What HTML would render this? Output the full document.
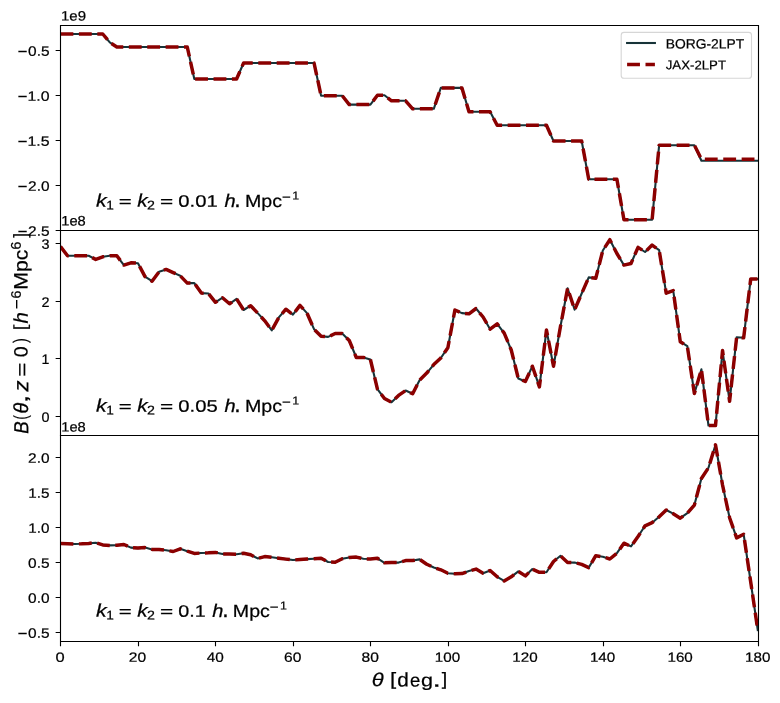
<!DOCTYPE html><html><head><meta charset="utf-8"><style>html,body{margin:0;padding:0;background:#fff}svg{display:block;will-change:transform}</style></head><body>
<svg width="780" height="703" viewBox="0 0 780 703">
<rect x="0" y="0" width="780" height="703" fill="#fff"/>
<defs>
<clipPath id="c0"><rect x="60.5" y="25.5" width="698.0" height="205.0"/></clipPath>
<clipPath id="c1"><rect x="60.5" y="230.5" width="698.0" height="205.0"/></clipPath>
<clipPath id="c2"><rect x="60.5" y="435.5" width="698.0" height="206.0"/></clipPath>
</defs>
<g clip-path="url(#c0)" fill="none" stroke-linejoin="round">
<path d="M60.50,34.00 L67.54,34.00 L74.59,34.00 L81.63,34.00 L88.67,34.00 L95.72,34.00 L102.76,34.00 L109.80,42.40 L116.84,47.00 L123.89,47.00 L130.93,47.00 L137.97,47.00 L145.02,47.00 L152.06,47.00 L159.10,47.00 L166.14,47.00 L173.19,47.00 L180.23,47.00 L187.27,47.00 L194.32,79.00 L201.36,79.00 L208.40,79.00 L215.45,79.00 L222.49,79.00 L229.53,79.00 L236.58,79.00 L243.62,63.00 L250.66,63.00 L257.70,63.00 L264.75,63.00 L271.79,63.00 L278.83,63.00 L285.88,63.00 L292.92,63.00 L299.96,63.00 L307.00,63.00 L314.05,63.00 L321.09,95.70 L328.13,95.70 L335.18,95.70 L342.22,95.70 L349.26,104.60 L356.31,104.60 L363.35,104.60 L370.39,104.60 L377.44,95.30 L384.48,95.30 L391.52,100.80 L398.56,100.80 L405.61,100.80 L412.65,108.80 L419.69,108.80 L426.74,108.80 L433.78,108.80 L440.82,87.90 L447.87,87.90 L454.91,87.90 L461.95,87.90 L468.99,111.80 L476.04,111.80 L483.08,111.80 L490.12,111.80 L497.17,125.30 L504.21,125.30 L511.25,125.30 L518.30,125.30 L525.34,125.30 L532.38,125.30 L539.42,125.30 L546.47,125.30 L553.51,141.00 L560.55,141.00 L567.60,141.00 L574.64,141.00 L581.68,141.00 L588.73,179.20 L595.77,179.20 L602.81,179.20 L609.85,179.20 L616.90,179.20 L623.94,219.70 L630.98,219.70 L638.03,219.70 L645.07,219.70 L652.11,219.70 L659.15,145.20 L666.20,145.20 L673.24,145.20 L680.28,145.20 L687.33,145.20 L694.37,145.20 L701.41,160.80 L708.46,160.80 L715.50,160.80 L722.54,160.80 L729.59,160.80 L736.63,160.80 L743.67,160.80 L750.71,160.80 L757.76,160.80" stroke="#173338" stroke-width="2.083" stroke-linecap="square"/>
<path d="M60.50,34.00 L67.54,34.00 L74.59,34.00 L81.63,34.00 L88.67,34.00 L95.72,34.00 L102.76,34.00 L109.80,42.40 L116.84,47.00 L123.89,47.00 L130.93,47.00 L137.97,47.00 L145.02,47.00 L152.06,47.00 L159.10,47.00 L166.14,47.00 L173.19,47.00 L180.23,47.00 L187.27,47.00 L194.32,79.00 L201.36,79.00 L208.40,79.00 L215.45,79.00 L222.49,79.00 L229.53,79.00 L236.58,79.00 L243.62,63.00 L250.66,63.00 L257.70,63.00 L264.75,63.00 L271.79,63.00 L278.83,63.00 L285.88,63.00 L292.92,63.00 L299.96,63.00 L307.00,63.00 L314.05,63.00 L321.09,95.70 L328.13,95.70 L335.18,95.70 L342.22,95.70 L349.26,104.60 L356.31,104.60 L363.35,104.60 L370.39,104.60 L377.44,95.30 L384.48,95.30 L391.52,100.80 L398.56,100.80 L405.61,100.80 L412.65,108.80 L419.69,108.80 L426.74,108.80 L433.78,108.80 L440.82,87.90 L447.87,87.90 L454.91,87.90 L461.95,87.90 L468.99,111.80 L476.04,111.80 L483.08,111.80 L490.12,111.80 L497.17,125.30 L504.21,125.30 L511.25,125.30 L518.30,125.30 L525.34,125.30 L532.38,125.30 L539.42,125.30 L546.47,125.30 L553.51,141.00 L560.55,141.00 L567.60,141.00 L574.64,141.00 L581.68,141.00 L588.73,179.20 L595.77,179.20 L602.81,179.20 L609.85,179.20 L616.90,179.20 L623.94,219.70 L630.98,219.70 L638.03,219.70 L645.07,219.70 L652.11,219.70 L659.15,145.20 L666.20,145.20 L673.24,145.20 L680.28,145.20 L687.33,145.20 L694.37,145.20 L701.41,159.20 L708.46,159.20 L715.50,159.20 L722.54,159.20 L729.59,159.20 L736.63,159.20 L743.67,159.20 L750.71,159.20 L757.76,159.20" stroke="#8b0000" stroke-width="3.472" stroke-dasharray="12.847 5.556" stroke-linecap="butt"/>
</g>
<g clip-path="url(#c1)" fill="none" stroke-linejoin="round">
<path d="M60.50,246.50 L67.54,255.80 L74.59,255.80 L81.63,255.80 L88.67,255.80 L95.72,259.40 L102.76,256.80 L109.80,255.80 L116.84,255.80 L123.89,265.10 L130.93,262.80 L137.97,263.20 L145.02,276.60 L152.06,281.20 L159.10,271.70 L166.14,269.40 L173.19,272.60 L180.23,275.80 L187.27,283.10 L194.32,283.10 L201.36,293.10 L208.40,293.50 L215.45,302.30 L222.49,297.70 L229.53,303.80 L236.58,298.90 L243.62,310.00 L250.66,305.70 L257.70,313.10 L264.75,320.80 L271.79,330.30 L278.83,317.40 L285.88,309.20 L292.92,314.60 L299.96,305.40 L307.00,313.10 L314.05,329.20 L321.09,336.20 L328.13,336.90 L335.18,333.50 L342.22,333.50 L349.26,340.50 L356.31,357.50 L363.35,357.40 L370.39,359.50 L377.44,389.20 L384.48,398.50 L391.52,402.30 L398.56,395.40 L405.61,390.50 L412.65,393.80 L419.69,380.00 L426.74,373.10 L433.78,364.60 L440.82,358.00 L447.87,347.70 L454.91,310.00 L461.95,313.10 L468.99,313.80 L476.04,308.50 L483.08,317.00 L490.12,329.20 L497.17,323.80 L504.21,333.10 L511.25,350.00 L518.30,378.50 L525.34,381.50 L532.38,366.20 L539.42,386.90 L546.47,330.00 L553.51,366.20 L560.55,326.00 L567.60,288.20 L574.64,309.70 L581.68,293.50 L588.73,277.40 L595.77,278.20 L602.81,250.50 L609.85,239.70 L616.90,253.50 L623.94,265.10 L630.98,263.50 L638.03,247.40 L645.07,252.00 L652.11,245.10 L659.15,250.20 L666.20,293.20 L673.24,290.60 L680.28,341.70 L687.33,346.20 L694.37,393.60 L701.41,369.30 L708.46,425.50 L715.50,425.50 L722.54,350.60 L729.59,401.30 L736.63,337.30 L743.67,337.80 L750.71,279.00 L757.76,279.00" stroke="#173338" stroke-width="2.083" stroke-linecap="square"/>
<path d="M60.50,246.50 L67.54,255.80 L74.59,255.80 L81.63,255.80 L88.67,255.80 L95.72,259.40 L102.76,256.80 L109.80,255.80 L116.84,255.80 L123.89,265.10 L130.93,262.80 L137.97,263.20 L145.02,276.60 L152.06,281.20 L159.10,271.70 L166.14,269.40 L173.19,272.60 L180.23,275.80 L187.27,283.10 L194.32,283.10 L201.36,293.10 L208.40,293.50 L215.45,302.30 L222.49,297.70 L229.53,303.80 L236.58,298.90 L243.62,310.00 L250.66,305.70 L257.70,313.10 L264.75,320.80 L271.79,330.30 L278.83,317.40 L285.88,309.20 L292.92,314.60 L299.96,305.40 L307.00,313.10 L314.05,329.20 L321.09,336.20 L328.13,336.90 L335.18,333.50 L342.22,333.50 L349.26,340.50 L356.31,357.50 L363.35,357.40 L370.39,359.50 L377.44,389.20 L384.48,398.50 L391.52,402.30 L398.56,395.40 L405.61,390.50 L412.65,393.80 L419.69,380.00 L426.74,373.10 L433.78,364.60 L440.82,358.00 L447.87,347.70 L454.91,310.00 L461.95,313.10 L468.99,313.80 L476.04,308.50 L483.08,317.00 L490.12,329.20 L497.17,323.80 L504.21,333.10 L511.25,350.00 L518.30,378.50 L525.34,381.50 L532.38,366.20 L539.42,386.90 L546.47,330.00 L553.51,366.20 L560.55,326.00 L567.60,288.20 L574.64,309.70 L581.68,293.50 L588.73,277.40 L595.77,278.20 L602.81,250.50 L609.85,239.70 L616.90,253.50 L623.94,265.10 L630.98,263.50 L638.03,247.40 L645.07,252.00 L652.11,245.10 L659.15,250.20 L666.20,293.20 L673.24,290.60 L680.28,341.70 L687.33,346.20 L694.37,393.60 L701.41,369.30 L708.46,425.50 L715.50,425.50 L722.54,350.60 L729.59,401.30 L736.63,337.30 L743.67,337.80 L750.71,279.00 L757.76,279.00" stroke="#8b0000" stroke-width="3.472" stroke-dasharray="12.847 5.556" stroke-linecap="butt"/>
</g>
<g clip-path="url(#c2)" fill="none" stroke-linejoin="round">
<path d="M60.50,543.60 L67.54,543.80 L74.59,544.00 L81.63,543.80 L88.67,543.40 L95.72,542.70 L102.76,544.90 L109.80,545.40 L116.84,545.20 L123.89,544.50 L130.93,547.60 L137.97,548.10 L145.02,547.60 L152.06,549.40 L159.10,549.50 L166.14,550.30 L173.19,551.50 L180.23,548.80 L187.27,551.20 L194.32,553.40 L201.36,553.00 L208.40,552.80 L215.45,552.40 L222.49,553.90 L229.53,554.00 L236.58,554.20 L243.62,553.30 L250.66,554.80 L257.70,558.40 L264.75,556.60 L271.79,557.30 L278.83,558.20 L285.88,559.10 L292.92,560.00 L299.96,559.60 L307.00,559.10 L314.05,558.70 L321.09,558.20 L328.13,562.00 L335.18,562.20 L342.22,558.80 L349.26,557.40 L356.31,557.10 L363.35,558.80 L370.39,559.00 L377.44,558.30 L384.48,562.80 L391.52,562.60 L398.56,562.60 L405.61,560.60 L412.65,560.50 L419.69,559.40 L426.74,564.20 L433.78,567.50 L440.82,569.80 L447.87,573.20 L454.91,573.70 L461.95,573.60 L468.99,571.00 L476.04,569.10 L483.08,573.20 L490.12,570.50 L497.17,576.80 L504.21,580.90 L511.25,576.80 L518.30,571.40 L525.34,575.90 L532.38,569.10 L539.42,572.30 L546.47,572.30 L553.51,561.50 L560.55,555.80 L567.60,562.50 L574.64,562.60 L581.68,564.40 L588.73,567.60 L595.77,555.70 L602.81,556.80 L609.85,559.00 L616.90,553.20 L623.94,543.20 L630.98,546.40 L638.03,536.50 L645.07,525.80 L652.11,522.70 L659.15,516.80 L666.20,510.00 L673.24,513.70 L680.28,518.20 L687.33,513.20 L694.37,505.10 L701.41,478.50 L708.46,467.80 L715.50,444.80 L722.54,485.00 L729.59,517.70 L736.63,537.90 L743.67,534.30 L750.71,582.00 L757.76,630.00" stroke="#173338" stroke-width="2.083" stroke-linecap="square"/>
<path d="M60.50,543.60 L67.54,543.80 L74.59,544.00 L81.63,543.80 L88.67,543.40 L95.72,542.70 L102.76,544.90 L109.80,545.40 L116.84,545.20 L123.89,544.50 L130.93,547.60 L137.97,548.10 L145.02,547.60 L152.06,549.40 L159.10,549.50 L166.14,550.30 L173.19,551.50 L180.23,548.80 L187.27,551.20 L194.32,553.40 L201.36,553.00 L208.40,552.80 L215.45,552.40 L222.49,553.90 L229.53,554.00 L236.58,554.20 L243.62,553.30 L250.66,554.80 L257.70,558.40 L264.75,556.60 L271.79,557.30 L278.83,558.20 L285.88,559.10 L292.92,560.00 L299.96,559.60 L307.00,559.10 L314.05,558.70 L321.09,558.20 L328.13,562.00 L335.18,562.20 L342.22,558.80 L349.26,557.40 L356.31,557.10 L363.35,558.80 L370.39,559.00 L377.44,558.30 L384.48,562.80 L391.52,562.60 L398.56,562.60 L405.61,560.60 L412.65,560.50 L419.69,559.40 L426.74,564.20 L433.78,567.50 L440.82,569.80 L447.87,573.20 L454.91,573.70 L461.95,573.60 L468.99,571.00 L476.04,569.10 L483.08,573.20 L490.12,570.50 L497.17,576.80 L504.21,580.90 L511.25,576.80 L518.30,571.40 L525.34,575.90 L532.38,569.10 L539.42,572.30 L546.47,572.30 L553.51,561.50 L560.55,555.80 L567.60,562.50 L574.64,562.60 L581.68,564.40 L588.73,567.60 L595.77,555.70 L602.81,556.80 L609.85,559.00 L616.90,553.20 L623.94,543.20 L630.98,546.40 L638.03,536.50 L645.07,525.80 L652.11,522.70 L659.15,516.80 L666.20,510.00 L673.24,513.70 L680.28,518.20 L687.33,513.20 L694.37,505.10 L701.41,478.50 L708.46,467.80 L715.50,444.80 L722.54,485.00 L729.59,517.70 L736.63,537.90 L743.67,534.30 L750.71,582.00 L757.76,630.00" stroke="#8b0000" stroke-width="3.472" stroke-dasharray="12.847 5.556" stroke-linecap="butt"/>
</g>
<g stroke="#000" stroke-width="1.111" fill="none" stroke-linecap="square">
<path d="M60.5,25.5 L758.5,25.5 M60.5,230.5 L758.5,230.5 M60.5,25.5 L60.5,230.5 M758.5,25.5 L758.5,230.5" stroke-linecap="square"/>
<path d="M60.5,230.5 L758.5,230.5 M60.5,435.5 L758.5,435.5 M60.5,230.5 L60.5,435.5 M758.5,230.5 L758.5,435.5" stroke-linecap="square"/>
<path d="M60.5,435.5 L758.5,435.5 M60.5,641.5 L758.5,641.5 M60.5,435.5 L60.5,641.5 M758.5,435.5 L758.5,641.5" stroke-linecap="square"/>
</g>
<g stroke="#000" stroke-width="1.111" fill="none">
<path d="M55.64,50.5 L60.5,50.5 M55.64,95.5 L60.5,95.5 M55.64,140.5 L60.5,140.5 M55.64,185.5 L60.5,185.5 M55.64,230.5 L60.5,230.5 M55.64,243.5 L60.5,243.5 M55.64,301.5 L60.5,301.5 M55.64,358.5 L60.5,358.5 M55.64,416.5 L60.5,416.5 M55.64,457.5 L60.5,457.5 M55.64,492.5 L60.5,492.5 M55.64,527.5 L60.5,527.5 M55.64,562.5 L60.5,562.5 M55.64,597.5 L60.5,597.5 M55.64,632.5 L60.5,632.5 M60.5,641.5 L60.5,646.36 M138.5,641.5 L138.5,646.36 M215.5,641.5 L215.5,646.36 M293.5,641.5 L293.5,646.36 M370.5,641.5 L370.5,646.36 M448.5,641.5 L448.5,646.36 M525.5,641.5 L525.5,646.36 M603.5,641.5 L603.5,646.36 M680.5,641.5 L680.5,646.36 M758.5,641.5 L758.5,646.36"/>
</g>
<rect x="621.2" y="32.4" width="130.3" height="45.9" rx="2.8" ry="2.8" fill="#fff" fill-opacity="0.8" stroke="#d6d6d6" stroke-width="1.111"/>
<path d="M627.1,43 L654.9,43" stroke="#173338" stroke-width="2.083" stroke-linecap="square" fill="none"/>
<path d="M627.1,64.5 L654.9,64.5" stroke="#8b0000" stroke-width="3.472" stroke-dasharray="12.847 5.556" stroke-linecap="butt" fill="none"/>
<text transform="translate(61.021,20.555) skewY(0.05) scale(1.0791,0.9800)" font-family="Liberation Sans" font-size="13.89" fill="#000" stroke="#000" stroke-width="0.22" xml:space="preserve">1e9</text>
<text transform="translate(61.243,225.553) skewY(0.05) scale(1.0575,0.9900)" font-family="Liberation Sans" font-size="13.89" fill="#000" stroke="#000" stroke-width="0.22" xml:space="preserve">1e8</text>
<text transform="translate(61.243,431.555) skewY(0.05) scale(1.0575,0.9800)" font-family="Liberation Sans" font-size="13.89" fill="#000" stroke="#000" stroke-width="0.22" xml:space="preserve">1e8</text>
<text transform="translate(17.467,58.283) skewY(0.05) scale(1.2444,1.4667)" font-family="Liberation Sans" font-size="13.89" fill="#000" stroke="#000" stroke-width="0.0" xml:space="preserve">−</text>
<text transform="translate(28.044,55.655) skewY(0.05) scale(1.1123,0.9800)" font-family="Liberation Sans" font-size="13.89" fill="#000" stroke="#000" stroke-width="0.22" xml:space="preserve">0.5</text>
<text transform="translate(17.467,103.283) skewY(0.05) scale(1.2444,1.4667)" font-family="Liberation Sans" font-size="13.89" fill="#000" stroke="#000" stroke-width="0.0" xml:space="preserve">−</text>
<text transform="translate(27.456,100.655) skewY(0.05) scale(1.1437,0.9800)" font-family="Liberation Sans" font-size="13.89" fill="#000" stroke="#000" stroke-width="0.22" xml:space="preserve">1.0</text>
<text transform="translate(17.467,148.283) skewY(0.05) scale(1.2444,1.4667)" font-family="Liberation Sans" font-size="13.89" fill="#000" stroke="#000" stroke-width="0.0" xml:space="preserve">−</text>
<text transform="translate(27.456,145.655) skewY(0.05) scale(1.1437,0.9800)" font-family="Liberation Sans" font-size="13.89" fill="#000" stroke="#000" stroke-width="0.22" xml:space="preserve">1.5</text>
<text transform="translate(17.467,193.283) skewY(0.05) scale(1.2444,1.4667)" font-family="Liberation Sans" font-size="13.89" fill="#000" stroke="#000" stroke-width="0.0" xml:space="preserve">−</text>
<text transform="translate(28.044,190.655) skewY(0.05) scale(1.1123,0.9800)" font-family="Liberation Sans" font-size="13.89" fill="#000" stroke="#000" stroke-width="0.22" xml:space="preserve">2.0</text>
<text transform="translate(17.467,238.283) skewY(0.05) scale(1.2444,1.4667)" font-family="Liberation Sans" font-size="13.89" fill="#000" stroke="#000" stroke-width="0.0" xml:space="preserve">−</text>
<text transform="translate(28.044,235.655) skewY(0.05) scale(1.1123,0.9800)" font-family="Liberation Sans" font-size="13.89" fill="#000" stroke="#000" stroke-width="0.22" xml:space="preserve">2.5</text>
<text transform="translate(41.381,248.655) skewY(0.05) scale(1.0370,0.9800)" font-family="Liberation Sans" font-size="13.89" fill="#000" stroke="#000" stroke-width="0.22" xml:space="preserve">3</text>
<text transform="translate(41.381,306.900) skewY(0.05) scale(1.0370,1.0051)" font-family="Liberation Sans" font-size="13.89" fill="#000" stroke="#000" stroke-width="0.22" xml:space="preserve">2</text>
<text transform="translate(41.476,363.900) skewY(0.05) scale(1.0240,1.0051)" font-family="Liberation Sans" font-size="13.89" fill="#000" stroke="#000" stroke-width="0.22" xml:space="preserve">1</text>
<text transform="translate(41.381,421.655) skewY(0.05) scale(1.0370,0.9800)" font-family="Liberation Sans" font-size="13.89" fill="#000" stroke="#000" stroke-width="0.22" xml:space="preserve">0</text>
<text transform="translate(28.044,462.655) skewY(0.05) scale(1.1123,0.9800)" font-family="Liberation Sans" font-size="13.89" fill="#000" stroke="#000" stroke-width="0.22" xml:space="preserve">2.0</text>
<text transform="translate(28.301,497.655) skewY(0.05) scale(1.0986,0.9800)" font-family="Liberation Sans" font-size="13.89" fill="#000" stroke="#000" stroke-width="0.22" xml:space="preserve">1.5</text>
<text transform="translate(28.301,532.655) skewY(0.05) scale(1.0986,0.9800)" font-family="Liberation Sans" font-size="13.89" fill="#000" stroke="#000" stroke-width="0.22" xml:space="preserve">1.0</text>
<text transform="translate(28.044,567.655) skewY(0.05) scale(1.1123,0.9800)" font-family="Liberation Sans" font-size="13.89" fill="#000" stroke="#000" stroke-width="0.22" xml:space="preserve">0.5</text>
<text transform="translate(28.044,602.655) skewY(0.05) scale(1.1123,0.9800)" font-family="Liberation Sans" font-size="13.89" fill="#000" stroke="#000" stroke-width="0.22" xml:space="preserve">0.0</text>
<text transform="translate(17.467,640.283) skewY(0.05) scale(1.2444,1.4667)" font-family="Liberation Sans" font-size="13.89" fill="#000" stroke="#000" stroke-width="0.0" xml:space="preserve">−</text>
<text transform="translate(28.044,637.655) skewY(0.05) scale(1.1123,0.9800)" font-family="Liberation Sans" font-size="13.89" fill="#000" stroke="#000" stroke-width="0.22" xml:space="preserve">0.5</text>
<text transform="translate(55.407,661.760) skewY(0.05) scale(1.1852,0.9600)" font-family="Liberation Sans" font-size="13.89" fill="#000" stroke="#000" stroke-width="0.22" xml:space="preserve">0</text>
<text transform="translate(128.843,661.760) skewY(0.05) scale(1.1241,0.9600)" font-family="Liberation Sans" font-size="13.89" fill="#000" stroke="#000" stroke-width="0.22" xml:space="preserve">20</text>
<text transform="translate(206.685,661.760) skewY(0.05) scale(1.1051,0.9600)" font-family="Liberation Sans" font-size="13.89" fill="#000" stroke="#000" stroke-width="0.22" xml:space="preserve">40</text>
<text transform="translate(283.955,661.760) skewY(0.05) scale(1.1241,0.9600)" font-family="Liberation Sans" font-size="13.89" fill="#000" stroke="#000" stroke-width="0.22" xml:space="preserve">60</text>
<text transform="translate(361.510,661.760) skewY(0.05) scale(1.1241,0.9600)" font-family="Liberation Sans" font-size="13.89" fill="#000" stroke="#000" stroke-width="0.22" xml:space="preserve">80</text>
<text transform="translate(434.784,661.760) skewY(0.05) scale(1.0943,0.9600)" font-family="Liberation Sans" font-size="13.89" fill="#000" stroke="#000" stroke-width="0.22" xml:space="preserve">100</text>
<text transform="translate(512.339,661.760) skewY(0.05) scale(1.0943,0.9600)" font-family="Liberation Sans" font-size="13.89" fill="#000" stroke="#000" stroke-width="0.22" xml:space="preserve">120</text>
<text transform="translate(589.895,661.760) skewY(0.05) scale(1.0943,0.9600)" font-family="Liberation Sans" font-size="13.89" fill="#000" stroke="#000" stroke-width="0.22" xml:space="preserve">140</text>
<text transform="translate(667.450,661.760) skewY(0.05) scale(1.0943,0.9600)" font-family="Liberation Sans" font-size="13.89" fill="#000" stroke="#000" stroke-width="0.22" xml:space="preserve">160</text>
<text transform="translate(745.006,661.760) skewY(0.05) scale(1.0943,0.9600)" font-family="Liberation Sans" font-size="13.89" fill="#000" stroke="#000" stroke-width="0.22" xml:space="preserve">180</text>
<text transform="translate(96.080,206.700) skewY(0.05) scale(1.2800,1.1020)" font-family="Liberation Sans" font-size="16.67" fill="#000" stroke="#000" stroke-width="0.22" xml:space="preserve"><tspan font-style="italic">k</tspan></text>
<text transform="translate(106.329,209.429) skewY(0.05) scale(1.1619,1.0824)" font-family="Liberation Sans" font-size="11.67" fill="#000" stroke="#000" stroke-width="0.22" xml:space="preserve">1</text>
<text transform="translate(118.700,206.800) skewY(0.05) scale(1.3333,0.9455)" font-family="Liberation Sans" font-size="16.67" fill="#000" stroke="#000" stroke-width="0.22" xml:space="preserve">=</text>
<text transform="translate(137.289,206.700) skewY(0.05) scale(1.2457,1.1020)" font-family="Liberation Sans" font-size="16.67" fill="#000" stroke="#000" stroke-width="0.22" xml:space="preserve"><tspan font-style="italic">k</tspan></text>
<text transform="translate(146.991,209.429) skewY(0.05) scale(1.2182,1.0824)" font-family="Liberation Sans" font-size="11.67" fill="#000" stroke="#000" stroke-width="0.22" xml:space="preserve">2</text>
<text transform="translate(159.982,206.800) skewY(0.05) scale(1.3576,0.9455)" font-family="Liberation Sans" font-size="16.67" fill="#000" stroke="#000" stroke-width="0.22" xml:space="preserve">=</text>
<text transform="translate(178.292,206.650) skewY(0.05) scale(1.2160,1.0000)" font-family="Liberation Sans" font-size="16.67" fill="#000" stroke="#000" stroke-width="0.22" xml:space="preserve">0.01</text>
<text transform="translate(96.080,411.700) skewY(0.05) scale(1.2800,1.1020)" font-family="Liberation Sans" font-size="16.67" fill="#000" stroke="#000" stroke-width="0.22" xml:space="preserve"><tspan font-style="italic">k</tspan></text>
<text transform="translate(106.329,414.429) skewY(0.05) scale(1.1619,1.0824)" font-family="Liberation Sans" font-size="11.67" fill="#000" stroke="#000" stroke-width="0.22" xml:space="preserve">1</text>
<text transform="translate(118.700,411.800) skewY(0.05) scale(1.3333,0.9455)" font-family="Liberation Sans" font-size="16.67" fill="#000" stroke="#000" stroke-width="0.22" xml:space="preserve">=</text>
<text transform="translate(137.289,411.700) skewY(0.05) scale(1.2457,1.1020)" font-family="Liberation Sans" font-size="16.67" fill="#000" stroke="#000" stroke-width="0.22" xml:space="preserve"><tspan font-style="italic">k</tspan></text>
<text transform="translate(146.991,414.429) skewY(0.05) scale(1.2182,1.0824)" font-family="Liberation Sans" font-size="11.67" fill="#000" stroke="#000" stroke-width="0.22" xml:space="preserve">2</text>
<text transform="translate(159.982,411.800) skewY(0.05) scale(1.3576,0.9455)" font-family="Liberation Sans" font-size="16.67" fill="#000" stroke="#000" stroke-width="0.22" xml:space="preserve">=</text>
<text transform="translate(178.292,411.650) skewY(0.05) scale(1.2160,1.0000)" font-family="Liberation Sans" font-size="16.67" fill="#000" stroke="#000" stroke-width="0.22" xml:space="preserve">0.05</text>
<text transform="translate(96.080,616.700) skewY(0.05) scale(1.2800,1.1020)" font-family="Liberation Sans" font-size="16.67" fill="#000" stroke="#000" stroke-width="0.22" xml:space="preserve"><tspan font-style="italic">k</tspan></text>
<text transform="translate(106.329,619.429) skewY(0.05) scale(1.1619,1.0824)" font-family="Liberation Sans" font-size="11.67" fill="#000" stroke="#000" stroke-width="0.22" xml:space="preserve">1</text>
<text transform="translate(118.700,616.800) skewY(0.05) scale(1.3333,0.9455)" font-family="Liberation Sans" font-size="16.67" fill="#000" stroke="#000" stroke-width="0.22" xml:space="preserve">=</text>
<text transform="translate(137.289,616.700) skewY(0.05) scale(1.2457,1.1020)" font-family="Liberation Sans" font-size="16.67" fill="#000" stroke="#000" stroke-width="0.22" xml:space="preserve"><tspan font-style="italic">k</tspan></text>
<text transform="translate(146.991,619.429) skewY(0.05) scale(1.2182,1.0824)" font-family="Liberation Sans" font-size="11.67" fill="#000" stroke="#000" stroke-width="0.22" xml:space="preserve">2</text>
<text transform="translate(159.982,616.800) skewY(0.05) scale(1.3576,0.9455)" font-family="Liberation Sans" font-size="16.67" fill="#000" stroke="#000" stroke-width="0.22" xml:space="preserve">=</text>
<text transform="translate(178.307,616.650) skewY(0.05) scale(1.1864,1.0000)" font-family="Liberation Sans" font-size="16.67" fill="#000" stroke="#000" stroke-width="0.22" xml:space="preserve">0.1</text>
<text transform="translate(224.400,206.900) skewY(0.05) scale(1.2000,1.0939)" font-family="Liberation Sans" font-size="16.67" fill="#000" stroke="#000" stroke-width="0.22" xml:space="preserve"><tspan font-style="italic">h</tspan></text>
<text transform="translate(234.343,206.900) skewY(0.05) scale(1.3714,1.3714)" font-family="Liberation Sans" font-size="16.67" fill="#000" stroke="#000" stroke-width="0.22" xml:space="preserve">.</text>
<text transform="translate(245.029,207.013) skewY(0.05) scale(1.1765,1.0533)" font-family="Liberation Sans" font-size="16.67" fill="#000" stroke="#000" stroke-width="0.22" xml:space="preserve">Mpc</text>
<text transform="translate(281.822,202.683) skewY(0.05) scale(1.3565,1.4667)" font-family="Liberation Sans" font-size="11.67" fill="#000" stroke="#000" stroke-width="0.0" xml:space="preserve">−</text>
<text transform="translate(292.300,199.550) skewY(0.05) scale(1.0667,1.0000)" font-family="Liberation Sans" font-size="11.67" fill="#000" stroke="#000" stroke-width="0.22" xml:space="preserve">1</text>
<text transform="translate(224.400,411.900) skewY(0.05) scale(1.2000,1.0939)" font-family="Liberation Sans" font-size="16.67" fill="#000" stroke="#000" stroke-width="0.22" xml:space="preserve"><tspan font-style="italic">h</tspan></text>
<text transform="translate(234.343,411.900) skewY(0.05) scale(1.3714,1.3714)" font-family="Liberation Sans" font-size="16.67" fill="#000" stroke="#000" stroke-width="0.22" xml:space="preserve">.</text>
<text transform="translate(245.029,412.013) skewY(0.05) scale(1.1765,1.0533)" font-family="Liberation Sans" font-size="16.67" fill="#000" stroke="#000" stroke-width="0.22" xml:space="preserve">Mpc</text>
<text transform="translate(281.822,407.683) skewY(0.05) scale(1.3565,1.4667)" font-family="Liberation Sans" font-size="11.67" fill="#000" stroke="#000" stroke-width="0.0" xml:space="preserve">−</text>
<text transform="translate(292.300,404.550) skewY(0.05) scale(1.0667,1.0000)" font-family="Liberation Sans" font-size="11.67" fill="#000" stroke="#000" stroke-width="0.22" xml:space="preserve">1</text>
<text transform="translate(212.200,616.900) skewY(0.05) scale(1.2000,1.0939)" font-family="Liberation Sans" font-size="16.67" fill="#000" stroke="#000" stroke-width="0.22" xml:space="preserve"><tspan font-style="italic">h</tspan></text>
<text transform="translate(222.143,616.900) skewY(0.05) scale(1.3714,1.3714)" font-family="Liberation Sans" font-size="16.67" fill="#000" stroke="#000" stroke-width="0.22" xml:space="preserve">.</text>
<text transform="translate(232.829,617.013) skewY(0.05) scale(1.1765,1.0533)" font-family="Liberation Sans" font-size="16.67" fill="#000" stroke="#000" stroke-width="0.22" xml:space="preserve">Mpc</text>
<text transform="translate(269.622,612.683) skewY(0.05) scale(1.3565,1.4667)" font-family="Liberation Sans" font-size="11.67" fill="#000" stroke="#000" stroke-width="0.0" xml:space="preserve">−</text>
<text transform="translate(280.100,609.550) skewY(0.05) scale(1.0667,1.0000)" font-family="Liberation Sans" font-size="11.67" fill="#000" stroke="#000" stroke-width="0.22" xml:space="preserve">1</text>
<text transform="translate(665.703,48.455) skewY(0.05) scale(0.9974,0.9800)" font-family="Liberation Sans" font-size="13.89" fill="#000" stroke="#000" stroke-width="0.22" xml:space="preserve">BORG-2LPT</text>
<text transform="translate(665.762,69.367) skewY(0.05) scale(0.9530,0.9300)" font-family="Liberation Sans" font-size="13.89" fill="#000" stroke="#000" stroke-width="0.22" xml:space="preserve">JAX-2LPT</text>
<text transform="translate(371.654,686.062) skewY(0.05) scale(1.1282,0.9517)" font-family="Liberation Sans" font-size="19.44" fill="#000" stroke="#000" stroke-width="0.22" xml:space="preserve"><tspan font-style="italic">θ</tspan></text>
<text transform="translate(390.062,684.972) skewY(0.05) scale(1.1500,0.9243)" font-family="Liberation Sans" font-size="19.44" fill="#000" stroke="#000" stroke-width="0.22" xml:space="preserve">[</text>
<text transform="translate(397.200,686.548) skewY(0.05) scale(1.0667,1.0069)" font-family="Liberation Sans" font-size="19.44" fill="#000" stroke="#000" stroke-width="0.22" xml:space="preserve">d</text>
<text transform="translate(409.986,686.560) skewY(0.05) scale(0.9514,0.9581)" font-family="Liberation Sans" font-size="19.44" fill="#000" stroke="#000" stroke-width="0.22" xml:space="preserve">e</text>
<text transform="translate(420.967,686.324) skewY(0.05) scale(1.1111,0.9356)" font-family="Liberation Sans" font-size="19.44" fill="#000" stroke="#000" stroke-width="0.22" xml:space="preserve">g</text>
<text transform="translate(432.588,686.800) skewY(0.05) scale(1.5500,1.1111)" font-family="Liberation Sans" font-size="19.44" fill="#000" stroke="#000" stroke-width="0.22" xml:space="preserve">.</text>
<text transform="translate(441.800,684.972) skewY(0.05) scale(1.0118,0.9243)" font-family="Liberation Sans" font-size="19.44" fill="#000" stroke="#000" stroke-width="0.22" xml:space="preserve">]</text>
<text transform="rotate(-90) translate(-433.679,28.200) skewY(0.05) scale(0.9583,1.0444)" font-family="Liberation Sans" font-size="19.44" fill="#000" stroke="#000" stroke-width="0.22" xml:space="preserve"><tspan font-style="italic">B</tspan></text>
<text transform="rotate(-90) translate(-419.473,26.899) skewY(0.05) scale(0.6727,0.9753)" font-family="Liberation Sans" font-size="19.44" fill="#000" stroke="#000" stroke-width="0.22" xml:space="preserve">(</text>
<text transform="rotate(-90) translate(-413.562,27.938) skewY(0.05) scale(1.0154,1.0483)" font-family="Liberation Sans" font-size="19.44" fill="#000" stroke="#000" stroke-width="0.22" xml:space="preserve"><tspan font-style="italic">θ</tspan></text>
<text transform="rotate(-90) translate(-402.925,27.474) skewY(0.05) scale(1.5000,1.0105)" font-family="Liberation Sans" font-size="19.44" fill="#000" stroke="#000" stroke-width="0.22" xml:space="preserve">,</text>
<text transform="rotate(-90) translate(-391.518,28.200) skewY(0.05) scale(1.1282,1.0829)" font-family="Liberation Sans" font-size="19.44" fill="#000" stroke="#000" stroke-width="0.22" xml:space="preserve"><tspan font-style="italic">z</tspan></text>
<text transform="rotate(-90) translate(-376.731,28.320) skewY(0.05) scale(1.2410,0.9600)" font-family="Liberation Sans" font-size="19.44" fill="#000" stroke="#000" stroke-width="0.22" xml:space="preserve">=</text>
<text transform="rotate(-90) translate(-357.358,27.452) skewY(0.05) scale(1.0105,0.9929)" font-family="Liberation Sans" font-size="19.44" fill="#000" stroke="#000" stroke-width="0.22" xml:space="preserve">0</text>
<text transform="rotate(-90) translate(-343.100,26.621) skewY(0.05) scale(0.7429,0.9699)" font-family="Liberation Sans" font-size="19.44" fill="#000" stroke="#000" stroke-width="0.22" xml:space="preserve">)</text>
<text transform="rotate(-90) translate(-330.281,26.295) skewY(0.05) scale(1.0250,0.9189)" font-family="Liberation Sans" font-size="19.44" fill="#000" stroke="#000" stroke-width="0.22" xml:space="preserve">[</text>
<text transform="rotate(-90) translate(-323.464,27.800) skewY(0.05) scale(1.0564,1.0246)" font-family="Liberation Sans" font-size="19.44" fill="#000" stroke="#000" stroke-width="0.22" xml:space="preserve"><tspan font-style="italic">h</tspan></text>
<text transform="rotate(-90) translate(-309.492,22.900) skewY(0.05) scale(1.3231,1.4000)" font-family="Liberation Sans" font-size="13.6" fill="#000" stroke="#000" stroke-width="0.0" xml:space="preserve">−</text>
<text transform="rotate(-90) translate(-298.423,20.746) skewY(0.05) scale(1.0462,1.0154)" font-family="Liberation Sans" font-size="13.6" fill="#000" stroke="#000" stroke-width="0.22" xml:space="preserve">6</text>
<text transform="rotate(-90) translate(-289.640,27.538) skewY(0.05) scale(1.0935,1.0028)" font-family="Liberation Sans" font-size="19.44" fill="#000" stroke="#000" stroke-width="0.22" xml:space="preserve">Mpc</text>
<text transform="rotate(-90) translate(-249.415,20.741) skewY(0.05) scale(1.0308,1.0359)" font-family="Liberation Sans" font-size="13.6" fill="#000" stroke="#000" stroke-width="0.22" xml:space="preserve">6</text>
<text transform="rotate(-90) translate(-237.800,26.557) skewY(0.05) scale(0.8471,0.9514)" font-family="Liberation Sans" font-size="19.44" fill="#000" stroke="#000" stroke-width="0.22" xml:space="preserve">]</text>
</svg></body></html>
